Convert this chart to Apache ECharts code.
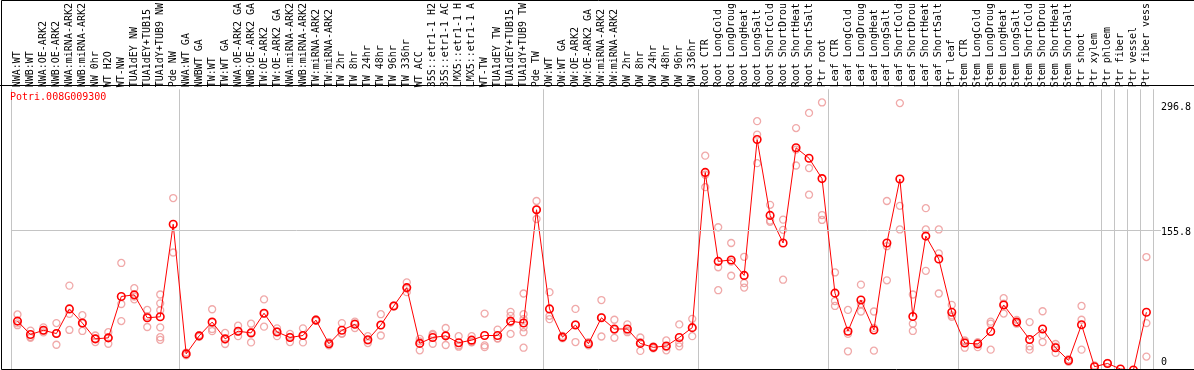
<!DOCTYPE html>
<html><head><meta charset="utf-8">
<script src="https://cdn.jsdelivr.net/npm/echarts@6/dist/echarts.min.js"></script>
<style>html,body{margin:0;padding:0;background:#fff}#c{width:1194px;height:370px}</style>
</head><body><div id="c"></div>
<script>
const geneId = 'Potri.008G009300';

const categories = [
  'NWA:WT','NWB:WT','NWA:OE-ARK2','NWB:OE-ARK2','NWA:miRNA-ARK2','NWB:miRNA-ARK2','NW 0hr','WT H2O','WT-NW','TUA1dEY NW','TUA1dEY+TUB15 NW','TUA1dY+TUB9 NW','Pde NW',
  'NWA:WT GA','NWBWT GA','TW:WT','TW:WT GA','NWA:OE-ARK2 GA','NWB:OE-ARK2 GA','TW:OE-ARK2','TW:OE-ARK2 GA','NWA:miRNA-ARK2 GA','NWB:miRNA-ARK2 GA','TW:miRNA-ARK2','TW:miRNA-ARK2 GA',
  'TW 2hr','TW 8hr','TW 24hr','TW 48hr','TW 96hr','TW 336hr','WT ACC','35S::etr1-1 H2O','35S::etr1-1 ACC','LMX5::etr1-1 H2O','LMX5::etr1-1 ACC','WT-TW','TUA1dEY TW','TUA1dEY+TUB15 TW','TUA1dY+TUB9 TW','Pde TW',
  'OW:WT','OW:WT GA','OW:OE-ARK2','OW:OE-ARK2 GA','OW:miRNA-ARK2','OW:miRNA-ARK2 GA','OW 2hr','OW 8hr','OW 24hr','OW 48hr','OW 96hr','OW 336hr',
  'Root CTR','Root LongCold','Root LongDrought','Root LongHeat','Root LongSalt','Root ShortCold','Root ShortDrought','Root ShortHeat','Root ShortSalt','Ptr root',
  'Leaf CTR','Leaf LongCold','Leaf LongDrought','Leaf LongHeat','Leaf LongSalt','Leaf ShortCold','Leaf ShortDrought','Leaf ShortHeat','Leaf ShortSalt','Ptr leaf',
  'Stem CTR','Stem LongCold','Stem LongDrought','Stem LongHeat','Stem LongSalt','Stem ShortCold','Stem ShortDrought','Stem ShortHeat','Stem ShortSalt','Ptr shoot','Ptr xylem',
  'Ptr phloem','Ptr fiber','Ptr vessel','Ptr fiber vessel'
];

const means = [
  54.6, 39.6, 44.3, 40.7, 68.2, 52.4, 34.8, 35.9, 82.1, 83.9, 58.3, 59.4, 162.7,
  18.0, 38.1, 53.5, 34.8, 43.3, 41.4, 63.4, 42.5, 36.3, 38.5, 55.7, 29.3,
  44.3, 51.0, 33.7, 50.2, 71.5, 92.0, 29.7, 36.3, 38.1, 30.4, 33.3, 38.5, 38.5, 54.6, 52.4, 178.9,
  68.2, 36.7, 50.2, 29.3, 58.3, 45.8, 45.8, 29.7, 25.3, 26.8, 36.3, 47.3,
  220.6, 121.3, 122.8, 105.6, 257.3, 172.6, 141.8, 248.1, 236.4, 213.7,
  85.8, 43.3, 78.1, 44.7, 141.8, 213.3, 59.7, 149.5, 123.9, 64.5,
  30.1, 29.0, 42.9, 72.6, 53.5, 34.1, 45.8, 24.9, 10.6, 50.6, 3.7,
  7.3, 1.1, 0.0, 64.5
];

const replicates = [
  [62, 52, 50], [44, 37, 36], [47.6, 42, 44], [52.4, 28.2, 41], [94.2, 62.7, 44.7], [61.2, 43.6, 52], [38.5, 31.2, 35], [42.2, 29.3, 36],
  [119.5, 73.7, 54.6], [91.3, 78.8, 82], [67.1, 48, 60], [84.3, 74.4, 66.7, 47.6, 36.6, 33.7], [192, 131.2],
  [19.5, 16.5], [39, 37], [67.8, 45.8, 43.4], [41.4, 29, 34], [49.5, 37.8, 43], [51.7, 30.8, 42], [78.8, 48.4, 63], [46.5, 37.8, 43],
  [40.3, 31.2, 37], [46.5, 30.8, 38], [56.5, 55], [31.2, 27.5, 29],
  [52.4, 40.3, 41], [53.9, 46.9, 52], [37.8, 30.1, 33], [62.3, 38.5, 50], [72, 71], [97.9, 86.9, 91], [34.8, 22, 32],
  [40.3, 29.3, 39], [46.9, 27.9, 39], [37.8, 27.5, 26], [37.8, 31.2, 31], [63, 27.5, 25.5], [45.1, 35.5, 35],
  [64.9, 60.5, 40.3, 53], [85.4, 62.3, 56.8, 47.6, 42.2, 24.9], [188.7, 168.6, 179],
  [86.9, 60.5, 56.8], [38, 35.5], [68.2, 31.2, 51], [31, 27.5], [78.1, 37.4, 59], [56.1, 35.9, 45], [51, 42.2, 44],
  [36.3, 21.3, 31], [26.4, 24.3], [33, 25.5, 22], [50.9, 30.1, 26.4], [57.1, 37.8, 47],
  [239.3, 204.1, 218], [159.4, 114.7, 89.1], [141.8, 105.2, 121], [126.4, 97.1, 92], [277.8, 262.8, 230.9],
  [184.4, 166.8, 165.5], [167.9, 156.5, 100.8], [270.1, 228.3, 246], [287, 225.4, 195.7], [298.7, 173, 167.5],
  [108.9, 71.5, 77], [67.1, 40.3, 20.9], [95.3, 73.7, 65.3], [65.3, 21.6, 47], [188.7, 138.2, 100.1],
  [298, 183.3, 156.9], [84.3, 51.7, 43.6], [180.7, 156.9, 110.7], [156.9, 130.1, 85.4], [72.7, 59.4, 61],
  [33, 24.9, 32], [31, 25.5, 30], [51.7, 22.7, 54], [80.2, 63, 74], [56, 51.7, 53], [53.5, 26.4, 22.7],
  [65.6, 39.2, 31.2], [29, 19.1, 26], [12, 9], [71.5, 56.1, 22.7], [5],
  [8], [], [], [126.1, 52.4, 15]
];

const yTickValues = [0, 155.8, 296.8];
const yTickLabels = ['0', '155.8', '296.8'];
const gridLineValues = [155.8];
const groupStarts = [0, 13, 41, 53, 63, 73, 84, 85, 86, 87];

const MONO = 'DejaVu Sans Mono';
const GRAY = '#c4c4c4';
const isGroupStart = (idx) => groupStarts.indexOf(idx) >= 0;

const repData = [];
replicates.forEach((list, i) => list.forEach(v => repData.push([i, v])));

const chart = echarts.init(document.getElementById('c'), null, {renderer: 'canvas', width: 1194, height: 370});
chart.setOption({
  animation: false,
  backgroundColor: '#fff',
  title: {
    text: geneId, left: 10, top: 92, padding: 0,
    textStyle: {color: '#ff0000', fontSize: 10, fontWeight: 'normal', fontFamily: MONO}
  },
  grid: {left: 11, right: 39, top: 85, bottom: 0, containLabel: false},
  xAxis: {
    type: 'category', data: categories, position: 'top', boundaryGap: true,
    axisLine: {show: true, lineStyle: {color: '#000', width: 1}},
    axisTick: {show: true, length: 85, interval: isGroupStart, lineStyle: {color: GRAY, width: 1}},
    splitLine: {show: true, interval: isGroupStart, lineStyle: {color: GRAY, width: 1}},
    axisLabel: {
      interval: 0, rotate: 90, margin: 2, align: 'left', verticalAlign: 'middle',
      width: 86, overflow: 'truncate', ellipsis: '',
      fontSize: 10, fontFamily: MONO, color: '#000'
    }
  },
  yAxis: {
    type: 'value', position: 'right', min: 0, max: 313.4,
    axisLine: {show: false},
    axisTick: {show: true, customValues: gridLineValues, length: 8, lineStyle: {color: GRAY, width: 1}},
    splitLine: {show: false},
    axisLabel: {
      customValues: yTickValues, margin: 8, color: '#000', fontSize: 10, fontFamily: MONO,
      formatter: function (v) {
        const k = yTickValues.findIndex(t => Math.abs(t - v) < 1e-6);
        const key = k === 0 ? 'bot' : (k === 1 ? 'mid' : 'top');
        return '{' + key + '|' + yTickLabels[k] + '}';
      },
      rich: {
        top: {fontSize: 10, fontFamily: MONO, color: '#000', padding: [6, 0, 0, 0]},
        mid: {fontSize: 10, fontFamily: MONO, color: '#000', padding: [3, 0, 0, 0]},
        bot: {fontSize: 10, fontFamily: MONO, color: '#000', padding: [0, 0, 16, 0]}
      }
    }
  },
  series: [
    {
      type: 'scatter', data: repData, z: 2,
      symbol: 'circle', symbolSize: 7,
      itemStyle: {color: 'transparent', borderColor: '#ec9494', borderWidth: 1.3},
      markLine: {
        silent: true, symbol: 'none', label: {show: false},
        lineStyle: {color: GRAY, width: 1, type: 'solid'},
        data: gridLineValues.map(v => ({yAxis: v}))
      }
    },
    {
      type: 'line', data: means, z: 3, showAllSymbol: true,
      symbol: 'circle', symbolSize: 7.5,
      lineStyle: {color: '#ff0000', width: 1},
      itemStyle: {color: 'transparent', borderColor: '#ff0000', borderWidth: 1.6}
    }
  ],
  graphic: [
    {type: 'rect', silent: true, z: 100, shape: {x: 1.5, y: 0.5, width: 1300, height: 369}, style: {fill: 'none', stroke: '#000', lineWidth: 1}},
    {type: 'line', silent: true, z: 100, shape: {x1: 0, y1: 85.5, x2: 1194, y2: 85.5}, style: {stroke: '#000', lineWidth: 1}}
  ]
});
</script>
</body></html>
